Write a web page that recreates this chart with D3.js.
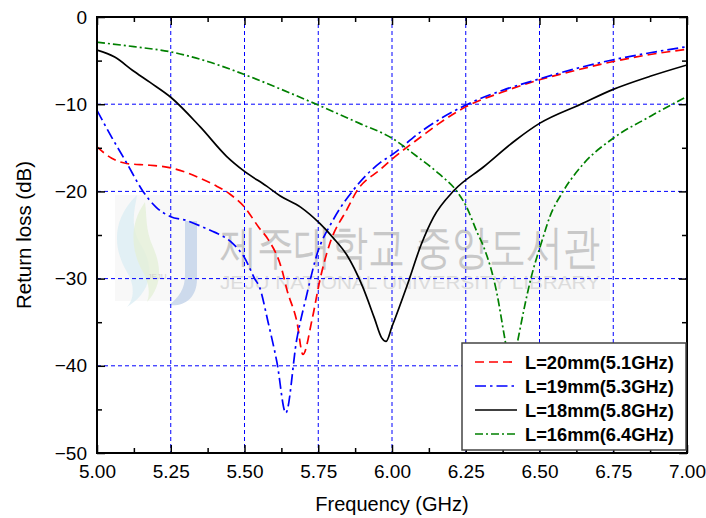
<!DOCTYPE html>
<html>
<head>
<meta charset="utf-8">
<script src="https://cdn.jsdelivr.net/npm/d3@7/dist/d3.min.js"></script>
<style>
  html, body { margin: 0; padding: 0; background: #fff; }
  svg { display: block; }
  text { font-family: Arial, "Liberation Sans", sans-serif; }
</style>
</head>
<body>
<svg id="chart" width="706" height="518"></svg>
<script>
// Return loss of the patch antenna for four slot lengths L
const seriesNames = ["L=20mm(5.1GHz)", "L=19mm(5.3GHz)", "L=18mm(5.8GHz)", "L=16mm(6.4GHz)"];

const freqL20 = [5.00, 5.05, 5.10, 5.18, 5.25, 5.30, 5.35, 5.40, 5.45, 5.50, 5.55, 5.58, 5.627, 5.644, 5.678, 5.698, 5.729, 5.756, 5.79, 5.847, 5.88, 5.96, 6.00, 6.10, 6.16, 6.25, 6.375, 6.50, 6.625, 6.75, 6.875, 7.00];
const rlL20   = [-14.9, -16.2, -16.8, -17.0, -17.3, -17.8, -18.5, -19.3, -20.3, -21.8, -24.2, -25.5, -29.0, -31.3, -35.0, -38.7, -34.7, -30.1, -25.9, -22.1, -20.0, -17.5, -16.3, -13.7, -12.2, -10.3, -8.6, -7.2, -6.1, -5.1, -4.3, -3.7];

const freqL19 = [5.00, 5.05, 5.10, 5.156, 5.20, 5.25, 5.30, 5.366, 5.40, 5.458, 5.50, 5.536, 5.55, 5.58, 5.61, 5.64, 5.677, 5.71, 5.745, 5.80, 5.87, 5.96, 6.00, 6.10, 6.25, 6.375, 6.50, 6.625, 6.75, 6.875, 7.00];
const rlL19   = [-10.7, -13.8, -16.7, -20.0, -21.8, -22.9, -23.3, -24.2, -24.7, -25.9, -27.6, -30.1, -30.9, -35.0, -39.6, -45.4, -37.0, -32.0, -27.3, -23.3, -19.8, -16.7, -15.8, -13.1, -10.1, -8.4, -7.1, -5.9, -4.9, -4.1, -3.4];

const freqL18 = [5.00, 5.06, 5.12, 5.18, 5.25, 5.35, 5.44, 5.50, 5.575, 5.62, 5.69, 5.756, 5.80, 5.847, 5.90, 5.94, 5.965, 5.98, 6.00, 6.05, 6.10, 6.14, 6.21, 6.31, 6.42, 6.50, 6.64, 6.75, 6.875, 7.00];
const rlL18   = [-3.8, -4.6, -6.1, -7.5, -9.2, -12.6, -16.0, -17.7, -19.4, -20.5, -21.8, -23.7, -25.3, -27.3, -30.9, -34.5, -36.8, -37.2, -35.5, -30.9, -26.0, -23.0, -19.9, -17.2, -14.1, -12.2, -10.0, -8.3, -6.8, -5.5];

const freqL16 = [5.00, 5.125, 5.25, 5.375, 5.50, 5.625, 5.75, 5.89, 6.00, 6.085, 6.16, 6.22, 6.25, 6.29, 6.31, 6.355, 6.383, 6.405, 6.427, 6.47, 6.51, 6.535, 6.58, 6.65, 6.75, 6.875, 7.00];
const rlL16   = [-2.9, -3.4, -4.0, -5.1, -6.6, -8.3, -10.1, -12.2, -13.9, -16.0, -18.0, -20.0, -21.6, -24.8, -26.3, -31.6, -37.0, -41.0, -37.0, -30.1, -25.5, -22.9, -20.0, -16.8, -13.9, -11.4, -9.1];

const xTicks = [5.00, 5.25, 5.50, 5.75, 6.00, 6.25, 6.50, 6.75, 7.00];
const yTicks = [0, -10, -20, -30, -40, -50];
const xTitle = "Frequency (GHz)";
const yTitle = "Return loss (dB)";

const styles = [
  { color: "#ff0000", dash: "9,5" },
  { color: "#0000ff", dash: "11,4,2.5,4" },
  { color: "#000000", dash: null },
  { color: "#008000", dash: "8,3,2,3" }
];

const series = [
  { name: seriesNames[0], f: freqL20, v: rlL20 },
  { name: seriesNames[1], f: freqL19, v: rlL19 },
  { name: seriesNames[2], f: freqL18, v: rlL18 },
  { name: seriesNames[3], f: freqL16, v: rlL16 }
].map((s, i) => ({ ...s, ...styles[i], pts: s.f.map((f, j) => [f, s.v[j]]) }));

const svg = d3.select("#chart");
const m = { left: 97, top: 17, right: 19, bottom: 65 };
const W = 706 - m.left - m.right;
const H = 518 - m.top - m.bottom;

const x = d3.scaleLinear().domain([5, 7]).range([0, W]);
const y = d3.scaleLinear().domain([-50, 0]).range([H, 0]);

const g = svg.append("g").attr("transform", `translate(${m.left},${m.top})`);

const clip = svg.append("defs").append("clipPath").attr("id", "plotclip");
clip.append("rect").attr("width", W).attr("height", H);

// library watermark behind the plot
const wm = g.append("g").attr("clip-path", "url(#plotclip)");
wm.append("rect").attr("x", 18).attr("y", 178).attr("width", 495).attr("height", 106)
  .attr("fill", "#f6f6f6").attr("opacity", 0.8);
wm.append("path")
  .attr("d", "M40,178 C12,205 18,235 30,255 C40,272 35,285 30,290 C55,275 58,250 44,228 C32,208 38,192 40,178 Z")
  .attr("fill", "#dceef4").attr("opacity", 0.8);
wm.append("path")
  .attr("d", "M48,185 C30,210 36,238 46,255 C54,270 52,280 50,285 C66,268 64,248 56,230 C48,212 50,198 48,185 Z")
  .attr("fill", "#e5f0d8").attr("opacity", 0.8);
wm.append("path")
  .attr("d", "M88,204 L100,204 L100,262 C100,282 86,290 72,288 C82,280 88,272 88,258 Z")
  .attr("fill", "#c6d5ea").attr("opacity", 0.85);
wm.append("text").attr("x", 60).attr("y", 262).attr("text-anchor", "middle")
  .attr("font-size", 8).attr("fill", "#d0d0d0").text("JEJU");
wm.append("text").attr("x", 313).attr("y", 246).attr("text-anchor", "middle")
  .attr("font-family", "'Noto Sans CJK KR', sans-serif").attr("font-size", 47)
  .attr("fill", "#c8c8c8").attr("textLength", 380).attr("lengthAdjust", "spacingAndGlyphs")
  .text("제주대학교 중앙도서관");
wm.append("text").attr("x", 313).attr("y", 272).attr("text-anchor", "middle")
  .attr("font-size", 19).attr("fill", "#dcdcdc").attr("textLength", 380).attr("lengthAdjust", "spacingAndGlyphs")
  .text("JEJU NATIONAL UNIVERSITY  LIBRARY");

// grid
const grid = g.append("g").attr("stroke", "#0000ff").attr("stroke-width", 1).attr("stroke-dasharray", "4,3");
xTicks.slice(1, -1).forEach(t => {
  grid.append("line").attr("x1", x(t)).attr("x2", x(t)).attr("y1", 0).attr("y2", H);
});
yTicks.slice(1, -1).forEach(t => {
  grid.append("line").attr("x1", 0).attr("x2", W).attr("y1", y(t)).attr("y2", y(t));
});

// curves
const line = d3.line().x(d => x(d[0])).y(d => y(d[1])).curve(d3.curveMonotoneX);
const curves = g.append("g").attr("clip-path", "url(#plotclip)");
series.forEach(s => {
  curves.append("path").datum(s.pts)
    .attr("d", line)
    .attr("fill", "none")
    .attr("stroke", s.color)
    .attr("stroke-width", 1.7)
    .attr("stroke-dasharray", s.dash);
});

// axes with inward ticks on all four sides
const minorX = d3.range(5.125, 7, 0.25);
const minorY = d3.range(-45, 0, 10);
function ticksOn(axisGen, sel) {
  sel.call(axisGen);
  sel.select(".domain").remove();
  sel.selectAll("line").attr("stroke", "#000").attr("stroke-width", 1.5);
}
const axBottom = g.append("g").attr("transform", `translate(0,${H})`);
ticksOn(d3.axisBottom(x).tickValues(xTicks).tickSize(-8).tickFormat(d3.format(".2f")).tickPadding(12), axBottom);
const axBottomMinor = g.append("g").attr("transform", `translate(0,${H})`);
ticksOn(d3.axisBottom(x).tickValues(minorX).tickSize(-5).tickFormat(""), axBottomMinor);
const axTop = g.append("g");
ticksOn(d3.axisTop(x).tickValues(xTicks).tickSize(-8).tickFormat(""), axTop);
const axTopMinor = g.append("g");
ticksOn(d3.axisTop(x).tickValues(minorX).tickSize(-5).tickFormat(""), axTopMinor);
const axLeft = g.append("g");
ticksOn(d3.axisLeft(y).tickValues(yTicks).tickSize(-8).tickFormat(d3.format("d")).tickPadding(10), axLeft);
const axLeftMinor = g.append("g");
ticksOn(d3.axisLeft(y).tickValues(minorY).tickSize(-5).tickFormat(""), axLeftMinor);
const axRight = g.append("g").attr("transform", `translate(${W},0)`);
ticksOn(d3.axisRight(y).tickValues(yTicks).tickSize(-8).tickFormat(""), axRight);
const axRightMinor = g.append("g").attr("transform", `translate(${W},0)`);
ticksOn(d3.axisRight(y).tickValues(minorY).tickSize(-5).tickFormat(""), axRightMinor);

axBottom.selectAll("text").attr("font-size", 19).attr("fill", "#000")
  .attr("font-family", "Arial, 'Liberation Sans', sans-serif");
axLeft.selectAll("text").attr("font-size", 19).attr("fill", "#000")
  .attr("font-family", "Arial, 'Liberation Sans', sans-serif");

// frame
g.append("rect").attr("width", W).attr("height", H)
  .attr("fill", "none").attr("stroke", "#000").attr("stroke-width", 2);

// axis titles
svg.append("text").attr("x", m.left + W / 2).attr("y", 511).attr("text-anchor", "middle")
  .attr("font-size", 20).text(xTitle);
svg.append("text").attr("transform", `translate(31,${m.top + H / 2}) rotate(-90)`)
  .attr("text-anchor", "middle").attr("font-size", 20.5).text(yTitle);

// legend
const lg = svg.append("g").attr("transform", "translate(462,343)");
lg.append("rect").attr("width", 224).attr("height", 107)
  .attr("fill", "#fff").attr("stroke", "#444").attr("stroke-width", 1.5);
series.forEach((s, i) => {
  const cy = 19 + i * 24;
  lg.append("line").attr("x1", 13).attr("x2", 55).attr("y1", cy).attr("y2", cy)
    .attr("stroke", s.color).attr("stroke-width", 1.7).attr("stroke-dasharray", s.dash);
  lg.append("text").attr("x", 63).attr("y", cy + 6.5)
    .attr("font-size", 18.3).attr("font-weight", "bold").text(s.name);
});
</script>
</body>
</html>
